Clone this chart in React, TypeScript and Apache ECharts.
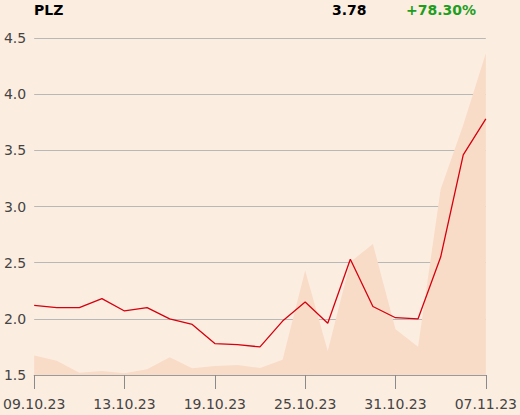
import React, { useEffect, useRef } from "react";
import * as echarts from "echarts";

const dates = [
  "09.10.23", "10.10.23", "11.10.23", "12.10.23", "13.10.23",
  "16.10.23", "17.10.23", "18.10.23", "19.10.23", "20.10.23",
  "23.10.23", "24.10.23", "25.10.23", "26.10.23", "27.10.23",
  "30.10.23", "31.10.23", "02.11.23", "03.11.23", "06.11.23", "07.11.23",
];
const prices = [
  2.12, 2.1, 2.1, 2.18, 2.07, 2.1, 2.0, 1.95, 1.78, 1.77,
  1.75, 1.98, 2.15, 1.96, 2.53, 2.11, 2.01, 2.0, 2.55, 3.46, 3.78,
];
// relative trading volume (percent of the panel height)
const volumes = [
  5.8, 4.2, 0.7, 1.2, 0.5, 1.7, 5.3, 2.0, 2.7, 3.0,
  2.1, 4.5, 31, 7.1, 33.5, 38.9, 13.6, 8.4, 55.1, 74.2, 95.5,
];
const yTicks = { min: 1.5, max: 4.5, interval: 0.5 };
const ticker = "PLZ";
const lastPrice = "3.78";
const change = "+78.30%";

export default function App() {
  const ref = useRef<HTMLDivElement>(null);
  useEffect(() => {
    if (!ref.current) return;
    const chart = echarts.init(ref.current, undefined, { renderer: "svg" });
    const font = "DejaVu Sans";
    chart.setOption({
      animation: false,
      backgroundColor: "#FCEDE1",
      textStyle: { fontFamily: font },
      grid: { left: 34, right: 34, top: 38, bottom: 40 },
      graphic: [
        { type: "text", left: 34, top: 3, style: { text: ticker, font: `bold 14px "${font}"`, fill: "#000" } },
        { type: "text", left: 332, top: 3, style: { text: lastPrice, font: `bold 14px "${font}"`, fill: "#000" } },
        { type: "text", left: 406, top: 3, style: { text: change, font: `bold 14px "${font}"`, fill: "#1E9E1E" } },
      ],
      xAxis: {
        type: "category",
        data: dates,
        boundaryGap: false,
        axisLine: { lineStyle: { color: "#9A9A9A", width: 1 } },
        axisTick: { interval: 3, length: 14, lineStyle: { color: "#8A8A8A" } },
        axisLabel: { interval: 3, color: "#444", fontSize: 14, margin: 22, fontFamily: font },
        splitLine: { show: false },
      },
      yAxis: [
        {
          type: "value",
          min: yTicks.min,
          max: yTicks.max,
          interval: yTicks.interval,
          axisLine: { show: false },
          axisTick: { show: false },
          axisLabel: {
            color: "#444",
            fontSize: 14,
            margin: 8,
            fontFamily: font,
            formatter: (v: number) => v.toFixed(1),
          },
          splitLine: { lineStyle: { color: "#B8B8B8", width: 1 } },
        },
        { type: "value", min: 0, max: 100, show: false, splitLine: { show: false } },
      ],
      series: [
        {
          type: "line",
          yAxisIndex: 1,
          data: volumes,
          symbol: "none",
          lineStyle: { width: 0 },
          areaStyle: { color: "#F8DCC7", opacity: 1 },
          z: 1,
        },
        {
          type: "line",
          data: prices,
          symbol: "none",
          lineStyle: { color: "#D6000E", width: 1.3 },
          z: 3,
        },
      ],
    });
    return () => chart.dispose();
  }, []);
  return (
    <div
      ref={ref}
      style={{ position: "absolute", left: 0, top: 0, width: 520, height: 415 }}
    />
  );
}
